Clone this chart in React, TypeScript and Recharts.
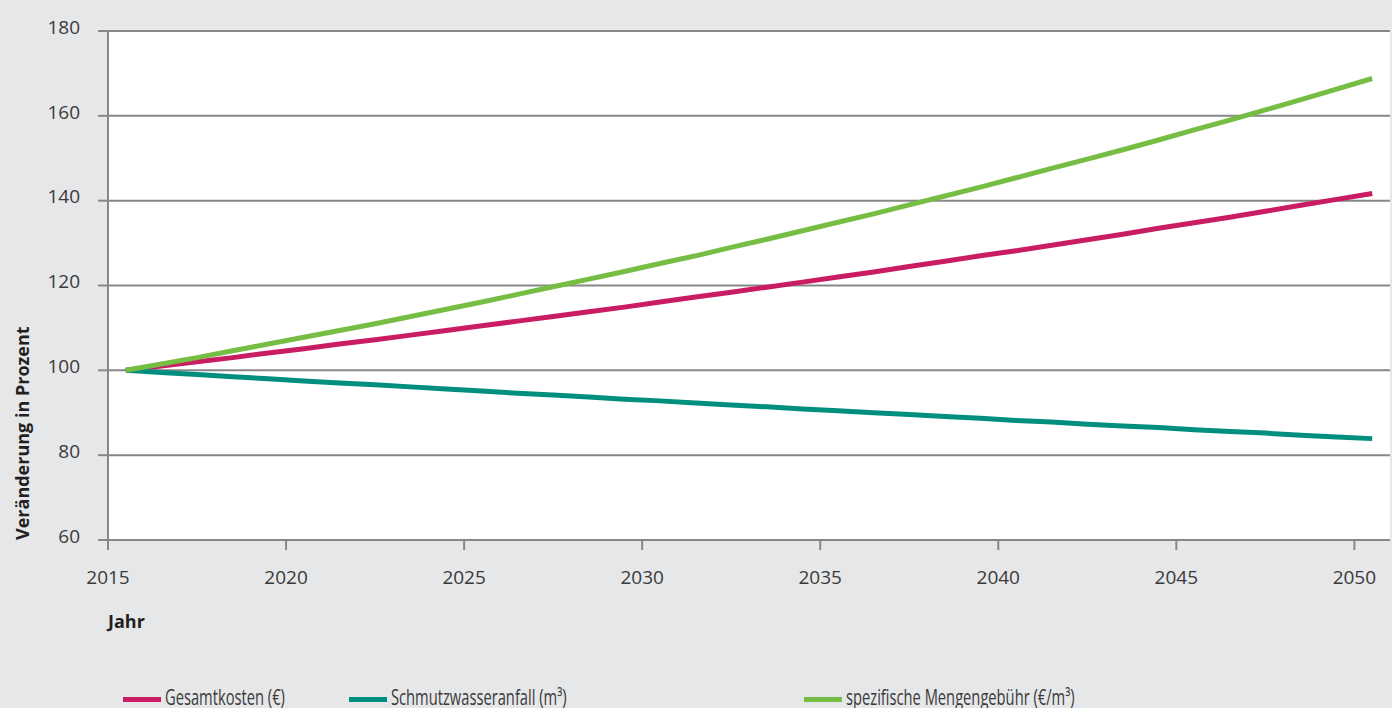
import { LineChart, Line, XAxis, YAxis, CartesianGrid, Label } from "recharts";

const C = { bg: "#e6e7e9", axis: "#878787", text: "#3a3a3a", title: "#231f20" };

const YEARS = [
  2015, 2016, 2017, 2018, 2019, 2020, 2021, 2022, 2023, 2024, 2025, 2026,
  2027, 2028, 2029, 2030, 2031, 2032, 2033, 2034, 2035, 2036, 2037, 2038,
  2039, 2040, 2041, 2042, 2043, 2044, 2045, 2046, 2047, 2048, 2049, 2050,
];

// Veränderung in Prozent (2015 = 100)
const GESAMTKOSTEN = [
  100.0, 101.0, 102.0, 103.0, 104.1, 105.1, 106.2, 107.2, 108.3, 109.4, 110.5, 111.6,
  112.7, 113.8, 114.9, 116.1, 117.3, 118.4, 119.6, 120.8, 122.0, 123.2, 124.5, 125.7,
  127.0, 128.2, 129.5, 130.8, 132.1, 133.5, 134.8, 136.1, 137.5, 138.9, 140.3, 141.7,
];
const SCHMUTZWASSER = [
  100.0, 99.5, 99.0, 98.5, 98.0, 97.5, 97.0, 96.6, 96.1, 95.6, 95.1, 94.6,
  94.2, 93.7, 93.2, 92.8, 92.3, 91.8, 91.4, 90.9, 90.5, 90.0, 89.6, 89.1,
  88.7, 88.2, 87.8, 87.3, 86.9, 86.5, 86.0, 85.6, 85.2, 84.7, 84.3, 83.9,
];
const MENGENGEBUEHR = [
  100.0, 101.5, 103.0, 104.6, 106.2, 107.8, 109.4, 111.0, 112.7, 114.4, 116.1, 117.9,
  119.7, 121.5, 123.3, 125.2, 127.0, 129.0, 130.9, 132.9, 134.9, 136.9, 139.0, 141.1,
  143.2, 145.4, 147.6, 149.8, 152.0, 154.3, 156.7, 159.0, 161.4, 163.8, 166.3, 168.8,
];

const Y_TICKS = [60, 80, 100, 120, 140, 160, 180];
const X_TICKS = [2015, 2020, 2025, 2030, 2035, 2040, 2045, 2050];

const SERIES = [
  { key: "gesamtkosten", name: "Gesamtkosten (€)", color: "#c91c63", legendX: 123 },
  { key: "schmutzwasser", name: "Schmutzwasseranfall (m³)", color: "#008e7e", legendX: 349 },
  { key: "gebuehr", name: "spezifische Mengengebühr (€/m³)", color: "#76bd43", legendX: 804 },
];

const data = YEARS.map((year, i) => ({
  year,
  gesamtkosten: GESAMTKOSTEN[i],
  schmutzwasser: SCHMUTZWASSER[i],
  gebuehr: MENGENGEBUEHR[i],
}));

// yearly values sit in the middle of their year
const midYear = (d: { year: number }) => d.year + 0.5;

const tickFont = { fill: C.text, fontSize: 19, fontFamily: "'Open Sans', sans-serif" };

export default function App() {
  return (
    <div style={{ position: "absolute", left: 0, top: 0, width: 1392, height: 708, background: C.bg, overflow: "hidden" }}>
      <LineChart width={1392} height={708} data={data} margin={{ top: 31, right: 2, bottom: 108, left: 0 }}>
        <CartesianGrid vertical={false} fill="#ffffff" stroke={C.axis} strokeWidth={2} />
        <XAxis
          dataKey={midYear}
          type="number"
          domain={[2015, 2051]}
          ticks={X_TICKS}
          allowDataOverflow
          height={60}
          tickSize={10}
          tickMargin={21}
          tick={tickFont}
          tickLine={{ stroke: C.axis, strokeWidth: 2 }}
          axisLine={{ stroke: C.axis, strokeWidth: 2 }}
        >
          <Label
            content={({ viewBox }: any) => (
              <text
                x={viewBox.x}
                y={viewBox.y + 88}
                fill={C.title}
                fontSize={18}
                fontWeight={700}
                fontFamily="'Open Sans', sans-serif"
              >
                Jahr
              </text>
            )}
          />
        </XAxis>
        <YAxis
          domain={[60, 180]}
          ticks={Y_TICKS}
          width={108}
          tickSize={10}
          tickMargin={18}
          tick={{ ...tickFont, dy: -4 }}
          tickLine={{ stroke: C.axis, strokeWidth: 2 }}
          axisLine={{ stroke: C.axis, strokeWidth: 2 }}
        >
          <Label
            content={({ viewBox }: any) => {
              const x = viewBox.x + 29;
              const y = viewBox.y + viewBox.height;
              return (
                <text
                  x={x}
                  y={y}
                  transform={`rotate(-90 ${x} ${y})`}
                  fill={C.title}
                  fontSize={18}
                  fontWeight={700}
                  fontFamily="'Open Sans', sans-serif"
                >
                  Veränderung in Prozent
                </text>
              );
            }}
          />
        </YAxis>
        {SERIES.map((s) => (
          <Line
            key={s.key}
            type="linear"
            dataKey={s.key}
            name={s.name}
            stroke={s.color}
            strokeWidth={5}
            dot={false}
            isAnimationActive={false}
          />
        ))}
      </LineChart>
      {SERIES.map((s) => (
        <div key={s.key} style={{ position: "absolute", left: s.legendX, top: 0 }}>
          <span
            style={{ position: "absolute", left: 0, top: 697, width: 38, height: 5, background: s.color }}
          />
          <span
            style={{
              position: "absolute",
              left: 42,
              top: 687,
              fontFamily: "'Open Sans', sans-serif",
              fontSize: 21,
              lineHeight: "21px",
              whiteSpace: "nowrap",
              color: C.text,
              transform: "scaleX(0.7)",
              transformOrigin: "left center",
            }}
          >
            {s.name}
          </span>
        </div>
      ))}
    </div>
  );
}
